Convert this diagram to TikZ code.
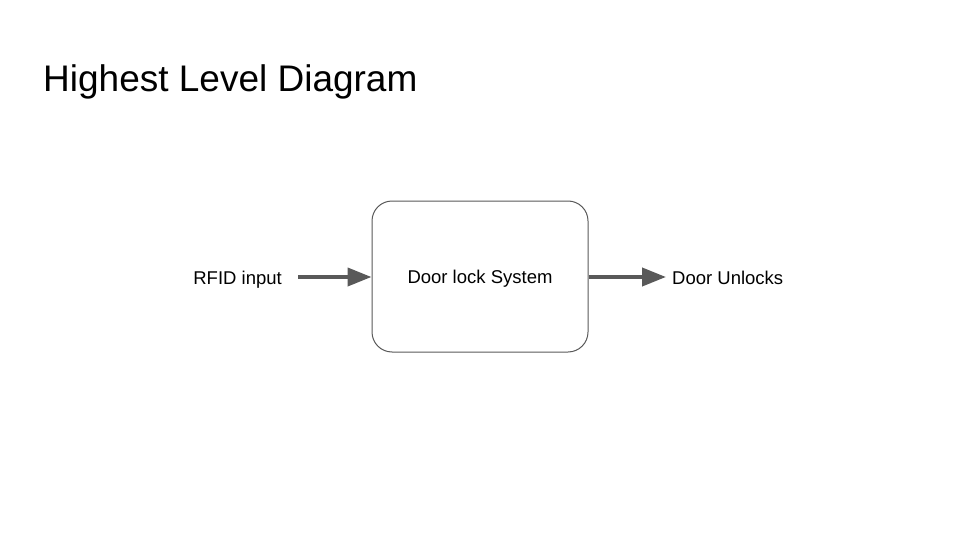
\documentclass[tikz,border=0pt]{standalone}
\usepackage{fontspec}
\setmainfont{Liberation Sans}
\usetikzlibrary{arrows.meta}
\definecolor{arrowgray}{HTML}{595959}
\definecolor{boxline}{HTML}{595959}
\tikzset{
  lbl/.style={inner sep=0pt, font=\fontsize{18.5}{22}\selectfont, text=black},
  flow/.style={draw=arrowgray, line width=4pt, -{Triangle[length=24pt,width=18pt]}},
  sysbox/.style={draw=boxline, line width=1pt, rounded corners=20pt, fill=white,
    minimum width=216pt, minimum height=151pt, inner sep=0pt}
}
\begin{document}
\begin{tikzpicture}[x=1pt,y=-1pt]
  \useasboundingbox (0,0) rectangle (960,540);
  \node[inner sep=0pt, anchor=base west, font=\fontsize{37}{44}\selectfont] (title) at (43,92) {Highest Level Diagram};
  \node[sysbox] (sys) at (480,276.5) {};
  \node[lbl, anchor=base] (systext) at (480,283.5) {Door lock System};
  \node[lbl, anchor=base east] (in) at (282,284) {RFID input};
  \node[lbl, anchor=base west] (out) at (672,284) {Door Unlocks};
  \coordinate (inS) at (298,277);
  \coordinate (outE) at (666,277);
  \draw[flow] (inS) -- (sys.west |- inS);
  \draw[flow] (sys.east |- outE) -- (outE);
\end{tikzpicture}
\end{document}
